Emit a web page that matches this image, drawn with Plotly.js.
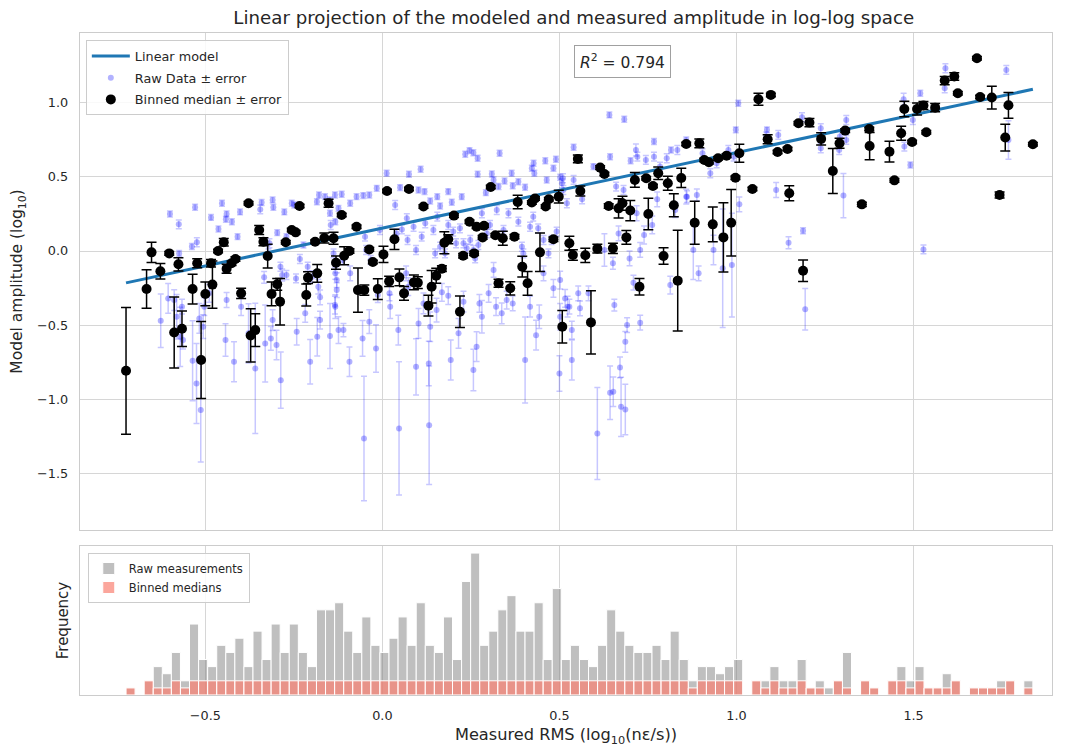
<!DOCTYPE html>
<html>
<head>
<meta charset="utf-8">
<script src="https://cdn.plot.ly/plotly-3.0.1.min.js"></script>
<style>
  html, body { margin: 0; padding: 0; background: #ffffff; }
  #chart { width: 1070px; height: 749px; }
</style>
</head>
<body>
<div id="chart"></div>
<script>
// Raw measurements: log10 RMS (x), modeled amplitude log10 (y), error (e)
const rawX = [
  -0.6, -0.575, -0.529, -0.524, -0.538, -0.574, -0.484, -0.453, -0.44, -0.442,
  -0.425, -0.463, -0.402, -0.409, -0.444, -0.341, -0.345, -0.31, -0.308, -0.277,
  -0.256, -0.249, -0.297, -0.271, -0.319, -0.322, -0.334, -0.288, -0.283, -0.271,
  -0.244, -0.233, -0.223, -0.211, -0.198, -0.181, -0.176, -0.185, -0.179, -0.162,
  -0.148, -0.148, -0.146, -0.133, -0.124, -0.138, -0.133, -0.626, -0.605, -0.588,
  -0.581, -0.571, -0.563, -0.566, -0.536, -0.525, -0.513, -0.517, -0.506, -0.503,
  -0.489, -0.443, -0.419, -0.44, -0.399, -0.378, -0.359, -0.331, -0.315, -0.299,
  -0.287, -0.31, -0.242, -0.218, -0.204, -0.184, -0.176, -0.148, -0.133, -0.129,
  -0.124, -0.134, -0.115, -0.091, -0.073, -0.054, -0.037, -0.016, 0.012, 0.036,
  0.05, 0.075, 0.108, 0.102, 0.119, 0.135, 0.155, 0.163, 0.186, 0.196,
  0.224, 0.234, 0.246, 0.257, 0.269, 0.269, 0.292, 0.309, 0.314, 0.331,
  0.328, 0.345, 0.365, 0.368, 0.384, 0.403, 0.422, 0.427, 0.429, 0.46,
  0.464, 0.483, 0.49, 0.502, 0.511, -0.112, -0.049, -0.046, -0.033, -0.007,
  0.04, 0.055, 0.069, 0.071, 0.088, 0.095, 0.111, 0.121, 0.144, 0.155,
  0.149, 0.163, 0.177, 0.186, 0.2, 0.208, 0.219, 0.229, 0.238, 0.248,
  0.257, 0.262, 0.271, 0.281, 0.295, 0.304, 0.323, 0.342, 0.356, 0.384,
  0.394, 0.398, 0.417, 0.426, 0.44, 0.455, 0.469, 0.478, 0.492, -0.134,
  -0.129, -0.11, -0.093, -0.091, -0.056, -0.052, -0.037, -0.018, -0.013, 0.02,
  0.022, 0.047, 0.045, 0.067, 0.073, 0.095, 0.102, 0.116, 0.132, 0.131,
  0.135, 0.153, 0.168, 0.186, 0.193, 0.215, 0.229, 0.257, 0.266, 0.274,
  0.281, 0.3, 0.314, 0.321, 0.337, 0.351, 0.368, 0.403, 0.417, 0.434,
  0.443, 0.455, 0.483, 0.5, 0.502, 0.523, 0.54, 0.564, 0.596, 0.641,
  0.683, 0.643, 0.66, 0.681, 0.701, 0.716, 0.72, 0.744, 0.767, 0.767,
  0.784, 0.803, 0.815, 0.833, 0.858, 0.86, 0.888, 0.904, 0.926, 0.944,
  0.977, 0.992, 0.998, 1.005, 1.008, 1.086, 1.084, 1.118, 0.507, 0.51,
  0.521, 0.54, 0.502, 0.516, 0.528, 0.535, 0.535, 0.553, 0.558, 0.582,
  0.607, 0.627, 0.643, 0.652, 0.655, 0.651, 0.667, 0.671, 0.674, 0.686,
  0.686, 0.691, 0.698, 0.709, 0.718, 0.728, 0.728, 0.739, 0.762, 0.776,
  0.813, 0.827, 0.858, 0.878, 0.893, 0.935, 0.961, 0.987, 1.112, 1.147,
  1.185, 1.188, 1.194, 1.238, 1.238, 1.292, 1.29, 1.302, 1.31, 1.31,
  1.472, 1.474, 1.491, 1.498, 1.519, 1.528, 1.59, 1.588, 1.762, 1.768
];
const rawY = [
  0.25, 0.18, 0.295, 0.059, 0.03, -0.016, 0.227, 0.322, 0.25, 0.214,
  0.198, 0.149, 0.264, 0.097, -0.117, 0.327, 0.281, 0.345, 0.295, 0.264,
  0.322, 0.311, 0.124, 0.097, 0.052, -0.016, -0.178, -0.106, -0.162, -0.162,
  -0.185, -0.054, 0.041, -0.106, -0.173, -0.241, -0.313, 0.333, 0.378, 0.367,
  0.345, 0.255, 0.176, 0.198, 0.288, -0.016, -0.151, -0.471, -0.32, -0.331,
  -0.444, -0.579, -0.601, -0.376, -0.741, -0.894, -1.074, -0.455, -0.511, -0.376,
  -0.286, -0.601, -0.748, -0.331, -0.376, -0.556, -0.793, -0.624, -0.59, -0.635,
  -0.872, -0.466, -0.545, -0.421, -0.748, -0.579, -0.466, -0.574, -0.376, -0.264,
  -0.534, 0.378, 0.383, 0.322, 0.367, 0.374, 0.378, 0.423, 0.525, 0.311,
  0.428, 0.518, 0.552, 0.412, 0.401, 0.338, 0.367, 0.304, 0.401, 0.329,
  0.367, 0.653, 0.678, 0.664, 0.626, 0.518, 0.394, 0.52, 0.48, 0.66,
  0.435, 0.473, 0.525, 0.441, 0.468, 0.43, 0.559, 0.592, 0.525, 0.61,
  0.48, 0.559, 0.619, 0.498, 0.412, -0.061, 0.097, 0.007, -0.061, 0.142,
  0.119, 0.146, 0.221, 0.074, 0.164, 0.007, 0.097, 0.187, 0.142, 0.232,
  -0.016, 0.029, -0.016, 0.176, 0.131, 0.052, 0.153, 0.052, 0.018, 0.074,
  0.007, -0.05, 0.041, 0.255, 0.119, 0.176, 0.277, 0.142, 0.255, 0.198,
  0.029, -0.016, 0.164, 0.232, 0.153, 0.074, -0.016, 0.074, 0.131, -0.365,
  -0.196, -0.534, -0.748, -0.151, -0.59, -1.266, -0.477, -0.658, -0.297, -0.286,
  -0.376, -1.198, -0.534, -0.151, -0.241, -0.782, -0.489, -0.354, -1.176, -0.759,
  -0.511, -0.399, -0.279, -0.302, -0.736, -0.556, -0.342, -0.804, -0.646, -0.354,
  -0.444, -0.286, -0.128, -0.376, -0.421, -0.331, -0.354, -0.736, -0.376, -0.568,
  -0.444, -0.151, -0.252, -0.827, -0.444, -0.376, 0.7, 0.349, 0.57, 0.919,
  0.89, 0.637, 0.435, 0.412, 0.61, 0.682, 0.637, 0.615, 0.739, 0.637,
  0.57, 0.626, 0.682, 0.682, 0.75, 0.367, 0.378, 0.66, 0.525, 0.592,
  0.682, 0.637, 0.818, 0.998, 0.315, 0.818, 0.773, 0.784, 0.457, 0.491,
  0.322, 0.48, -0.196, -0.32, -0.376, -0.534, -0.736, -0.286, -0.387, -0.286,
  -1.232, 0.007, -0.957, -0.95, -0.365, -0.083, 0.119, -0.786, -1.052, -1.07,
  -0.613, -0.5, -0.05, -0.214, 0.255, 0.007, -0.484, 0.108, 0.176, 0.349,
  -0.23, 0.277, 0.367, 0.007, -0.151, 0.007, -0.117, -0.095, 0.412, 0.056,
  0.903, 0.137, -0.394, 0.829, 0.694, 0.773, 0.682, 0.374, 0.885, 0.75,
  1.025, 0.705, 0.581, 0.885, 1.065, 0.011, 1.234, 1.099, 1.223, 0.75
];
const rawErr = [
  0.02, 0.03, 0.02, 0.03, 0.02, 0.02, 0.02, 0.02, 0.02, 0.02,
  0.02, 0.02, 0.02, 0.02, 0.03, 0.02, 0.03, 0.02, 0.02, 0.02,
  0.02, 0.02, 0.02, 0.02, 0.03, 0.03, 0.04, 0.03, 0.04, 0.03,
  0.03, 0.03, 0.02, 0.03, 0.04, 0.05, 0.05, 0.02, 0.02, 0.02,
  0.02, 0.02, 0.03, 0.02, 0.02, 0.03, 0.04, 0.18, 0.1, 0.07,
  0.15, 0.2, 0.06, 0.05, 0.27, 0.27, 0.35, 0.1, 0.08, 0.06,
  0.06, 0.11, 0.135, 0.05, 0.06, 0.2, 0.44, 0.26, 0.08, 0.1,
  0.19, 0.07, 0.09, 0.06, 0.15, 0.13, 0.06, 0.22, 0.08, 0.05,
  0.09, 0.02, 0.02, 0.02, 0.02, 0.02, 0.02, 0.02, 0.02, 0.03,
  0.02, 0.02, 0.02, 0.02, 0.02, 0.02, 0.02, 0.02, 0.02, 0.02,
  0.02, 0.02, 0.02, 0.02, 0.02, 0.02, 0.02, 0.02, 0.02, 0.02,
  0.02, 0.02, 0.02, 0.02, 0.02, 0.02, 0.02, 0.02, 0.02, 0.02,
  0.02, 0.02, 0.02, 0.02, 0.03, 0.03, 0.03, 0.03, 0.03, 0.03,
  0.03, 0.03, 0.03, 0.03, 0.03, 0.03, 0.03, 0.03, 0.03, 0.03,
  0.03, 0.03, 0.03, 0.03, 0.03, 0.03, 0.03, 0.03, 0.03, 0.03,
  0.03, 0.03, 0.03, 0.03, 0.03, 0.03, 0.03, 0.03, 0.03, 0.03,
  0.03, 0.03, 0.03, 0.03, 0.03, 0.03, 0.03, 0.03, 0.03, 0.06,
  0.05, 0.045, 0.1, 0.05, 0.12, 0.42, 0.08, 0.16, 0.05, 0.05,
  0.08, 0.45, 0.1, 0.05, 0.06, 0.19, 0.1, 0.07, 0.4, 0.15,
  0.1, 0.08, 0.06, 0.06, 0.135, 0.1, 0.07, 0.14, 0.1, 0.06,
  0.11, 0.06, 0.05, 0.06, 0.07, 0.06, 0.05, 0.29, 0.07, 0.1,
  0.08, 0.05, 0.06, 0.12, 0.09, 0.07, 0.02, 0.03, 0.02, 0.02,
  0.02, 0.02, 0.03, 0.03, 0.02, 0.04, 0.03, 0.03, 0.02, 0.03,
  0.03, 0.03, 0.02, 0.03, 0.02, 0.04, 0.04, 0.03, 0.03, 0.03,
  0.03, 0.03, 0.02, 0.02, 0.05, 0.02, 0.03, 0.03, 0.03, 0.03,
  0.03, 0.03, 0.06, 0.06, 0.05, 0.06, 0.135, 0.05, 0.05, 0.05,
  0.31, 0.11, 0.18, 0.1, 0.04, 0.04, 0.05, 0.07, 0.2, 0.17,
  0.07, 0.05, 0.05, 0.05, 0.05, 0.05, 0.05, 0.06, 0.06, 0.05,
  0.06, 0.05, 0.05, 0.2, 0.05, 0.1, 0.4, 0.35, 0.05, 0.04,
  0.03, 0.02, 0.14, 0.03, 0.03, 0.04, 0.03, 0.15, 0.03, 0.03,
  0.04, 0.03, 0.02, 0.03, 0.02, 0.03, 0.03, 0.03, 0.03, 0.13
];

// Binned medians of the raw measurements
const binX = [
  -0.724, -0.666, -0.652, -0.627, -0.602, -0.588, -0.576, -0.566, -0.536, -0.523,
  -0.512, -0.5, -0.484, -0.48, -0.464, -0.448, -0.44, -0.426, -0.415, -0.399,
  -0.378, -0.372, -0.359, -0.348, -0.336, -0.324, -0.313, -0.297, -0.289, -0.273,
  -0.256, -0.245, -0.234, -0.215, -0.21, -0.19, -0.184, -0.164, -0.152, -0.138,
  -0.131, -0.115, -0.108, -0.093, -0.073, -0.069, -0.051, -0.037, -0.027, -0.013,
  0.003, 0.013, 0.019, 0.034, 0.048, 0.061, 0.075, 0.089, 0.1, 0.116,
  0.13, 0.139, 0.152, 0.168, 0.175, 0.186, 0.202, 0.219, 0.228, 0.246,
  0.259, 0.266, 0.283, 0.287, 0.306, 0.319, 0.328, 0.34, 0.361, 0.373,
  0.382, 0.395, 0.41, 0.422, 0.431, 0.445, 0.461, 0.47, 0.483, 0.498,
  0.508, 0.528, 0.538, 0.552, 0.559, 0.573, 0.589, 0.607, 0.615, 0.627,
  0.639, 0.651, 0.667, 0.678, 0.689, 0.7, 0.713, 0.726, 0.745, 0.751,
  0.764, 0.779, 0.794, 0.806, 0.823, 0.834, 0.844, 0.858, 0.882, 0.895,
  0.909, 0.922, 0.933, 0.948, 0.963, 0.972, 0.985, 0.997, 1.008, 1.045,
  1.062, 1.088, 1.097, 1.116, 1.144, 1.149, 1.175, 1.188, 1.206, 1.239,
  1.272, 1.291, 1.307, 1.354, 1.375, 1.376, 1.432, 1.446, 1.465, 1.474,
  1.496, 1.51, 1.528, 1.536, 1.561, 1.588, 1.615, 1.625, 1.679, 1.688,
  1.721, 1.743, 1.759, 1.768, 1.837
];
const binY = [
  -0.809, -0.257, -0.009, -0.137, -0.016, -0.55, -0.09, -0.525, -0.257, -0.083,
  -0.736, -0.29, -0.083, -0.227, 0.0, 0.059, -0.12, -0.083, -0.054, -0.286,
  0.322, -0.57, -0.534, 0.142, 0.063, -0.034, -0.29, -0.225, -0.342, 0.059,
  0.142, 0.126, 0.304, -0.297, -0.18, 0.063, -0.151, 0.088, 0.322, 0.086,
  -0.079, 0.243, -0.032, 0.0, 0.164, -0.264, -0.264, 0.011, -0.074, -0.257,
  -0.023, 0.405, -0.205, 0.079, -0.178, -0.286, 0.419, -0.212, -0.214, 0.3,
  -0.369, -0.241, -0.167, -0.119, 0.056, 0.079, 0.239, -0.41, -0.032, 0.198,
  -0.016, 0.164, 0.092, 0.171, 0.432, 0.106, -0.218, 0.086, -0.252, 0.097,
  0.331, -0.106, -0.218, 0.327, 0.354, -0.009, 0.3, 0.349, 0.079, 0.367,
  -0.511, 0.052, -0.027, 0.622, 0.405, -0.029, -0.482, 0.016, 0.563, 0.52,
  0.304, 0.018, 0.288, 0.322, 0.092, 0.273, 0.48, -0.241, 0.491, 0.25,
  0.439, 0.525, -0.034, 0.457, 0.309, -0.2, 0.493, 0.723, 0.191, 0.727,
  0.615, 0.599, 0.18, 0.626, 0.092, 0.644, 0.191, 0.495, 0.66, 0.419,
  1.025, 0.755, 1.054, 0.669, 0.689, 0.39, 0.863, -0.133, 0.867, 0.757,
  0.54, 0.727, 0.813, 0.315, 0.824, 0.709, 0.671, 0.477, 0.795, 0.959,
  0.736, 0.959, 0.982, 0.802, 0.968, 1.151, 1.178, 1.065, 1.302, 1.04,
  1.036, 0.378, 0.766, 0.984, 0.721
];
const binErr = [
  0.428, 0.13, 0.068, 0.052, 0.012, 0.24, 0.045, 0.12, 0.1, 0.03,
  0.26, 0.08, 0.025, 0.16, 0.012, 0.025, 0.03, 0.015, 0.015, 0.034,
  0.012, 0.18, 0.11, 0.03, 0.027, 0.08, 0.08, 0.04, 0.157, 0.012,
  0.012, 0.012, 0.012, 0.074, 0.04, 0.012, 0.06, 0.034, 0.027, 0.04,
  0.045, 0.012, 0.06, 0.015, 0.012, 0.15, 0.034, 0.012, 0.012, 0.07,
  0.055, 0.012, 0.035, 0.068, 0.056, 0.047, 0.012, 0.05, 0.04, 0.012,
  0.07, 0.11, 0.05, 0.02, 0.074, 0.03, 0.012, 0.106, 0.015, 0.012,
  0.015, 0.012, 0.012, 0.012, 0.012, 0.012, 0.027, 0.047, 0.045, 0.015,
  0.045, 0.07, 0.08, 0.012, 0.012, 0.13, 0.012, 0.012, 0.015, 0.043,
  0.11, 0.047, 0.036, 0.026, 0.034, 0.048, 0.214, 0.03, 0.012, 0.012,
  0.015, 0.034, 0.065, 0.047, 0.047, 0.068, 0.05, 0.056, 0.012, 0.107,
  0.012, 0.043, 0.056, 0.047, 0.077, 0.34, 0.065, 0.012, 0.145, 0.03,
  0.012, 0.012, 0.117, 0.012, 0.233, 0.012, 0.225, 0.012, 0.06, 0.012,
  0.04, 0.03, 0.012, 0.012, 0.012, 0.05, 0.012, 0.073, 0.028, 0.042,
  0.152, 0.034, 0.012, 0.015, 0.012, 0.092, 0.07, 0.012, 0.047, 0.053,
  0.012, 0.04, 0.027, 0.012, 0.028, 0.028, 0.025, 0.012, 0.012, 0.012,
  0.077, 0.02, 0.09, 0.087, 0.012
];

// Linear model fitted in log-log space (end points over the measured range)
const modelX = [-0.724, 1.837];
const modelY = [-0.215, 1.092];
const rSquared = 0.794;

// Histogram counts per bin (100 equal bins spanning the measured range)
const histStart = -0.724;
const histBinWidth = 0.02561;
const rawCounts = [
  1, 0, 2, 4, 3, 6, 2, 10, 5, 4,
  7, 6, 8, 4, 9, 5, 10, 6, 10, 6,
  4, 12, 12, 13, 9, 6, 11, 7, 6, 8,
  11, 7, 13, 7, 6, 11, 5, 16, 20, 7,
  9, 12, 14, 9, 9, 13, 5, 15, 5, 7,
  5, 4, 7, 12, 9, 7, 6, 6, 7, 5,
  9, 5, 2, 4, 4, 3, 4, 5, 0, 2,
  2, 4, 2, 2, 5, 1, 2, 1, 2, 6,
  0, 2, 1, 0, 2, 4, 2, 4, 1, 1,
  3, 2, 0, 1, 1, 1, 2, 2, 0, 2
];
const medianCounts = [
  1, 0, 2, 1, 1, 2, 1, 2, 2, 2,
  2, 2, 2, 2, 2, 2, 2, 2, 2, 2,
  2, 2, 2, 2, 2, 2, 2, 2, 2, 2,
  2, 2, 2, 2, 2, 2, 2, 2, 2, 2,
  2, 2, 2, 2, 2, 2, 2, 2, 2, 2,
  2, 2, 2, 2, 2, 2, 2, 2, 2, 2,
  2, 2, 1, 2, 2, 2, 2, 2, 0, 2,
  1, 2, 1, 1, 2, 1, 1, 0, 2, 1,
  0, 2, 1, 0, 2, 2, 1, 2, 1, 1,
  1, 2, 0, 1, 1, 1, 1, 2, 0, 1
];

const xTicks = [-0.5, 0, 0.5, 1.0, 1.5];
const yTicks = [-1.5, -1.0, -0.5, 0, 0.5, 1.0];

const binCenters = rawCounts.map((_, i) => histStart + (i + 0.5) * histBinWidth);

const gridColor = '#d6d6d6';
const frameColor = '#cccccc';
const textColor = '#262626';
const xRange = [-0.854, 1.891];

const traces = [
  {
    type: 'scatter', mode: 'markers', name: 'Raw Data ± error',
    x: rawX, y: rawY, xaxis: 'x', yaxis: 'y', legendrank: 2, legendgroup: 'raw',
    marker: { size: 6, color: 'rgba(0,0,255,0.3)' },
    error_y: { type: 'data', array: rawErr, visible: true, color: 'rgba(0,0,255,0.22)', thickness: 1.5, width: 3 }
  },
  {
    type: 'scatter', mode: 'lines', name: 'Linear model',
    x: modelX, y: modelY, xaxis: 'x', yaxis: 'y', legendrank: 1, legendgroup: 'model',
    line: { color: '#1f77b4', width: 3 }
  },
  {
    type: 'scatter', mode: 'markers', name: 'Binned median ± error',
    x: binX, y: binY, xaxis: 'x', yaxis: 'y', legendrank: 3, legendgroup: 'binned',
    marker: { size: 10, color: '#000000' },
    error_y: { type: 'data', array: binErr, visible: true, color: '#000000', thickness: 1.5, width: 5 }
  },
  {
    type: 'bar', name: 'Raw measurements', legend: 'legend2',
    x: binCenters, y: rawCounts, width: histBinWidth, xaxis: 'x2', yaxis: 'y2',
    marker: { color: 'rgba(128,128,128,0.5)', line: { color: '#ffffff', width: 1 } }
  },
  {
    type: 'bar', name: 'Binned medians', legend: 'legend2',
    x: binCenters, y: medianCounts, width: histBinWidth, xaxis: 'x2', yaxis: 'y2',
    marker: { color: 'rgba(250,128,114,0.7)', line: { color: '#ffffff', width: 1 } }
  }
];

const axisCommon = {
  showgrid: true, gridcolor: gridColor, gridwidth: 1,
  showline: true, mirror: true, linecolor: frameColor, linewidth: 1.3,
  zeroline: false, ticks: 'outside', ticklen: 8, tickcolor: 'rgba(0,0,0,0)',
  tickfont: { size: 12.8, color: textColor }
};

const layout = {
  width: 1070, height: 749,
  margin: { l: 80, r: 18, t: 33, b: 54 },
  paper_bgcolor: '#ffffff', plot_bgcolor: '#ffffff',
  font: { family: '"DejaVu Sans", Verdana, sans-serif', size: 13, color: textColor },
  title: {
    text: 'Linear projection of the modeled and measured amplitude in log-log space',
    x: 0.508, xref: 'paper', xanchor: 'center',
    y: 0.976, yref: 'container', yanchor: 'middle',
    font: { size: 18.2, color: textColor }
  },
  showlegend: true,
  hovermode: false,
  barmode: 'overlay',
  bargap: 0,
  legend: {
    x: 0.006, y: 0.989, xanchor: 'left', yanchor: 'top',
    bgcolor: 'rgba(255,255,255,0.85)', bordercolor: frameColor, borderwidth: 1,
    font: { size: 12.8, color: textColor }, tracegroupgap: 2, itemwidth: 38
  },
  legend2: {
    x: 0.008, y: 0.2145, xanchor: 'left', yanchor: 'top',
    bgcolor: 'rgba(255,255,255,0.85)', bordercolor: frameColor, borderwidth: 1,
    font: { size: 11.5, color: textColor }, traceorder: 'normal'
  },
  xaxis: Object.assign({}, axisCommon, {
    domain: [0, 1], anchor: 'y', range: xRange, tickvals: xTicks, showticklabels: false
  }),
  yaxis: Object.assign({}, axisCommon, {
    domain: [0.2492, 1], anchor: 'x', range: [-1.884, 1.472],
    tickvals: yTicks, tickformat: '.1f',
    title: { text: 'Model amplitude (log<sub>10</sub>)', font: { size: 15.5, color: textColor }, standoff: 10 }
  }),
  xaxis2: Object.assign({}, axisCommon, {
    domain: [0, 1], anchor: 'y2', range: xRange, tickvals: xTicks, tickformat: '.1f',
    title: { text: 'Measured RMS (log<sub>10</sub>(nε/s))', font: { size: 16.2, color: textColor }, standoff: 7 }
  }),
  yaxis2: Object.assign({}, axisCommon, {
    domain: [0, 0.2251], anchor: 'x2', range: [0, 21],
    showgrid: false, showticklabels: false, ticks: '',
    title: { text: 'Frequency', font: { size: 15, color: textColor }, standoff: 6 }
  }),
  annotations: [{
    xref: 'x', yref: 'y', x: 0.677, y: 1.277,
    text: '<i>R</i><sup>2</sup> = ' + rSquared.toFixed(3),
    showarrow: false, bgcolor: '#ffffff', bordercolor: '#a0a0a0', borderwidth: 1, borderpad: 5,
    font: { size: 15.5, color: textColor }
  }]
};

Plotly.newPlot('chart', traces, layout, { staticPlot: true, displayModeBar: false });
</script>
</body>
</html>
